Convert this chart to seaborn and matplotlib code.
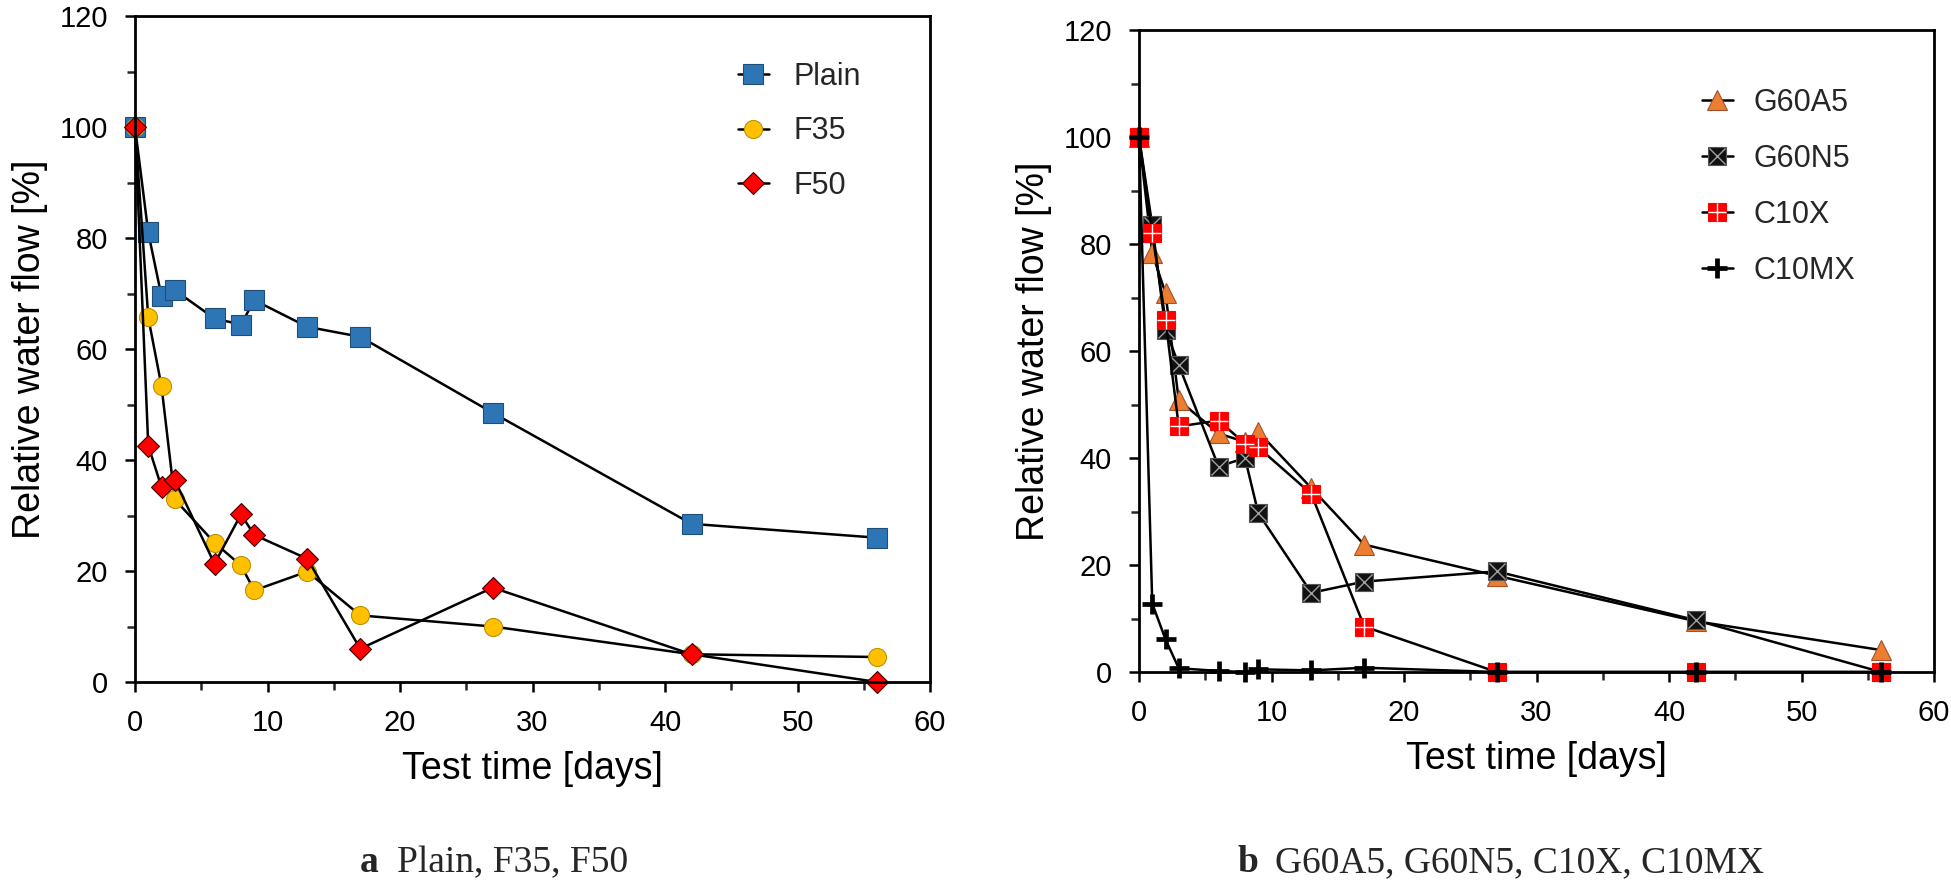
import numpy as np
import pandas as pd
import matplotlib
matplotlib.use('Agg')
import matplotlib.pyplot as plt
import seaborn as sns
from matplotlib import font_manager
from matplotlib.lines import Line2D
from matplotlib.legend_handler import HandlerTuple
from matplotlib.ticker import MultipleLocator

# Data
days = [0, 1, 2, 3, 6, 8, 9, 13, 17, 27, 42, 56]

plain = [100, 81, 69.5, 70.6, 65.5, 64.4, 68.8, 64.0, 62.2, 48.5, 28.5, 26.0]
f35 = [100, 65.7, 53.3, 32.9, 25.1, 21.0, 16.5, 19.9, 12.0, 10.0, 5.0, 4.5]
f50 = [100, 42.6, 35.1, 36.4, 21.3, 30.2, 26.5, 22.2, 6.0, 17.0, 5.0, 0.0]

g60a5 = [100, 78.3, 70.8, 50.8, 44.6, 43.0, 44.9, 34.4, 23.8, 18.0, 9.5, 4.1]
g60n5 = [100, 83.5, 64.0, 57.4, 38.4, 40.0, 29.7, 14.8, 16.9, 18.8, 9.7, 0.0]
c10x = [100, 82.0, 65.8, 45.9, 47.0, 42.7, 42.0, 33.3, 8.5, 0.0, 0.0, 0.0]
c10mx = [100, 12.8, 6.1, 0.7, 0.2, 0.0, 0.5, 0.3, 0.8, 0.0, 0.0, 0.0]

labels_a = ['Plain', 'F35', 'F50']
labels_b = ['G60A5', 'G60N5', 'C10X', 'C10MX']

# fonts
installed = {f.name for f in font_manager.fontManager.ttflist}
sans = 'Liberation Sans' if 'Liberation Sans' in installed else 'DejaVu Sans'
serif = 'Liberation Serif' if 'Liberation Serif' in installed else 'DejaVu Serif'

sns.set_theme(style='white')
plt.rcParams['font.family'] = [sans, 'DejaVu Sans']
plt.rcParams['axes.linewidth'] = 2.0

W, H = 1951, 890
fig = plt.figure(figsize=(W / 100, H / 100), dpi=100)
ax_a = fig.add_axes([135 / W, 1 - 682 / H, 795 / W, 666 / H])
ax_b = fig.add_axes([1139 / W, 1 - 672 / H, 795 / W, 642 / H])

LW = 1.8


def series(ax, y, marker, face, edge, ms, mew=0.8):
    df = pd.DataFrame({'day': days, 'flow': y})
    sns.lineplot(data=df, x='day', y='flow', ax=ax, color='black', lw=LW,
                 marker=marker, markersize=ms, markerfacecolor=face,
                 markeredgecolor=edge, markeredgewidth=mew,
                 estimator=None, sort=False, clip_on=False)


def overlay(ax, y, marker, color, ms, mew):
    ax.plot(days, y, ls='none', marker=marker, color=color, ms=ms, mew=mew,
            clip_on=False)


# panel a
series(ax_a, plain, 's', '#2E75B6', '#1F4E79', 14)
series(ax_a, f35, 'o', '#FFC000', '#BF9000', 13)
series(ax_a, f50, 'D', '#FF0000', '#400000', 11.5)

# panel b
series(ax_b, g60a5, '^', '#ED7D31', '#A0522D', 14)
series(ax_b, g60n5, 's', '#111111', '#555555', 13.5)
overlay(ax_b, g60n5, 'x', '#a0a0a0', 11, 1.0)
series(ax_b, c10x, 's', '#FF0000', '#FF0000', 13.5)
overlay(ax_b, c10x, '+', 'white', 13.5, 1.0)
series(ax_b, c10mx, '+', 'black', 'black', 15, 3.4)

for ax in (ax_a, ax_b):
    ax.set_xlim(0, 60)
    ax.set_ylim(0, 120)
    ax.xaxis.set_major_locator(MultipleLocator(10))
    ax.xaxis.set_minor_locator(MultipleLocator(5))
    ax.yaxis.set_major_locator(MultipleLocator(20))
    ax.yaxis.set_minor_locator(MultipleLocator(10))
    ax.tick_params(which='major', direction='out', length=7.5, width=1.8,
                   pad=12, labelsize=21, colors='black',
                   bottom=True, left=True)
    ax.tick_params(which='minor', direction='out', length=6, width=1.8,
                   bottom=True, left=True)
    for s in ax.spines.values():
        s.set_color('black')
        s.set_linewidth(2.0)
    ax.set_xlabel('Test time [days]', fontsize=27, labelpad=10, color='black')
    ax.set_ylabel('Relative water flow [%]', fontsize=27, labelpad=8,
                  color='black')
    ax.grid(False)

# legends
h_a = [
    Line2D([], [], color='black', lw=LW, marker='s', ms=14,
           mfc='#2E75B6', mec='#1F4E79', mew=0.8),
    Line2D([], [], color='black', lw=LW, marker='o', ms=13,
           mfc='#FFC000', mec='#BF9000', mew=0.8),
    Line2D([], [], color='black', lw=LW, marker='D', ms=11.5,
           mfc='#FF0000', mec='#400000', mew=0.8),
]
ax_a.legend(h_a, labels_a, loc='upper left', frameon=False, fontsize=22,
            bbox_to_anchor=(738 / W, 1 - 62 / H), bbox_transform=fig.transFigure,
            borderpad=0, borderaxespad=0, handlelength=1.0,
            handletextpad=0.8, labelspacing=0.8)

h_b = [
    Line2D([], [], color='black', lw=LW, marker='^', ms=14,
           mfc='#ED7D31', mec='#A0522D', mew=0.8),
    (Line2D([], [], color='black', lw=LW, marker='s', ms=13.5,
            mfc='#111111', mec='#555555', mew=0.8),
     Line2D([], [], ls='none', marker='x', ms=11, color='#a0a0a0', mew=1.0)),
    (Line2D([], [], color='black', lw=LW, marker='s', ms=13.5,
            mfc='#FF0000', mec='#FF0000', mew=0.8),
     Line2D([], [], ls='none', marker='+', ms=13.5, color='white', mew=1.0)),
    Line2D([], [], color='black', lw=LW, marker='+', ms=15, mew=3.4),
]
ax_b.legend(h_b, labels_b, loc='upper left', frameon=False, fontsize=22,
            bbox_to_anchor=(1702 / W, 1 - 88 / H), bbox_transform=fig.transFigure,
            borderpad=0, borderaxespad=0, handlelength=1.0,
            handletextpad=0.7, labelspacing=0.85,
            handler_map={tuple: HandlerTuple(ndivide=1, pad=0)})

# captions below the panels
cap_y = 1 - 872 / H
fig.text(360 / W, cap_y, 'a', family=[serif], weight='bold', fontsize=27,
         va='baseline', ha='left')
fig.text(397 / W, cap_y, 'Plain, F35, F50', family=[serif], fontsize=27,
         va='baseline', ha='left')
fig.text(1237 / W, cap_y, 'b', family=[serif], weight='bold', fontsize=27,
         va='baseline', ha='left')
fig.text(1275 / W, cap_y, 'G60A5, G60N5, C10X, C10MX', family=[serif],
         fontsize=27, va='baseline', ha='left')

fig.savefig('out.png', dpi=100, facecolor='white')
